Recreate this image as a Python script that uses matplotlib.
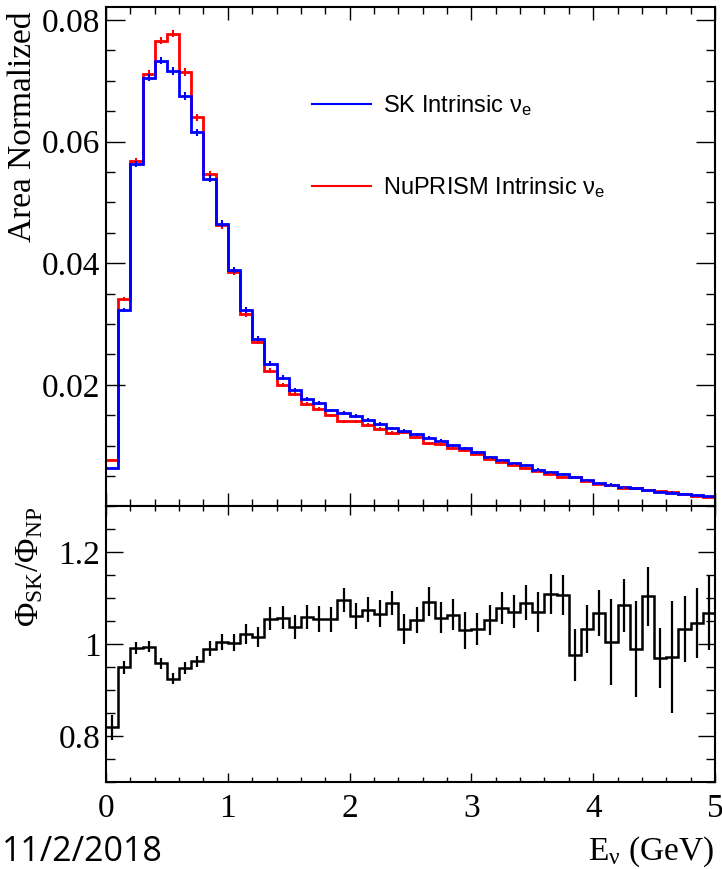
import numpy as np
import matplotlib
matplotlib.use('Agg')
import matplotlib.pyplot as plt
from matplotlib.lines import Line2D
from matplotlib.ticker import MultipleLocator, FuncFormatter

plt.rcParams['font.family'] = ['Liberation Serif', 'DejaVu Serif']
plt.rcParams['mathtext.fontset'] = 'custom'
plt.rcParams['mathtext.rm'] = 'Liberation Serif'
plt.rcParams['mathtext.it'] = 'Liberation Serif:italic'
plt.rcParams['mathtext.sf'] = 'Liberation Sans'

# Binning: 50 bins of 0.1 GeV from 0 to 5 GeV
e_min, e_max, n_bins = 0.0, 5.0, 50

# Area normalised flux, SK and NuPRISM intrinsic nu_e
sk_flux = [0.0063, 0.0323, 0.0563, 0.0705, 0.0733, 0.0716, 0.0675, 0.0615, 0.0539, 0.0465,
           0.0389, 0.0323, 0.0276, 0.0235, 0.0212, 0.0192, 0.0177, 0.0170, 0.0158, 0.0154,
           0.0149, 0.0143, 0.0136, 0.0129, 0.0124, 0.0119, 0.0113, 0.0108, 0.0101, 0.0096,
           0.0089, 0.0082, 0.0077, 0.0072, 0.0069, 0.0061, 0.0057, 0.0053, 0.0048, 0.0043,
           0.0039, 0.0036, 0.0033, 0.0030, 0.0027, 0.0024, 0.0023, 0.0021, 0.0019, 0.0017]
np_flux = [0.0077, 0.0341, 0.0568, 0.0711, 0.0766, 0.0777, 0.0714, 0.0640, 0.0546, 0.0462,
           0.0386, 0.0317, 0.0271, 0.0223, 0.0200, 0.0185, 0.0168, 0.0161, 0.0150, 0.0140,
           0.0140, 0.0134, 0.0128, 0.0121, 0.0122, 0.0115, 0.0104, 0.0103, 0.0096, 0.0093,
           0.0087, 0.0078, 0.0073, 0.0068, 0.0064, 0.0059, 0.0053, 0.0049, 0.00485, 0.0042,
           0.0038, 0.0035, 0.0031, 0.0030, 0.00275, 0.0025, 0.0024, 0.0020, 0.0018, 0.00165]
flux_err = [0.00012, 0.00033, 0.00052, 0.00058, 0.0006, 0.00059, 0.0006, 0.00059, 0.00059, 0.00056,
            0.0005, 0.0005, 0.00042, 0.00042, 0.00038, 0.00037, 0.00033, 0.00033, 0.0003, 0.00028,
            0.0003, 0.00027, 0.00029, 0.00025, 0.00029, 0.00024, 0.00025, 0.00026, 0.00023, 0.00027,
            0.00022, 0.00019, 0.00019, 0.00018, 0.00018, 0.00019, 0.00018, 0.00016, 0.00019, 0.00016,
            0.00014, 0.00024, 0.00013, 0.00022, 0.00012, 0.00011, 0.0002, 0.00011, 0.0001, 0.0001]

# Ratio SK / NuPRISM
ratio = [0.819, 0.949, 0.991, 0.994, 0.958, 0.924, 0.947, 0.962, 0.990, 1.004,
         1.003, 1.022, 1.015, 1.055, 1.057, 1.037, 1.059, 1.054, 1.054, 1.095,
         1.061, 1.075, 1.066, 1.089, 1.033, 1.052, 1.092, 1.057, 1.064, 1.030,
         1.033, 1.052, 1.078, 1.070, 1.090, 1.069, 1.109, 1.106, 0.976, 1.032,
         1.067, 1.004, 1.084, 0.989, 1.104, 0.969, 0.972, 1.032, 1.046, 1.068]
ratio_err = [0.027, 0.015, 0.013, 0.012, 0.012, 0.012, 0.013, 0.013, 0.016, 0.017,
             0.018, 0.022, 0.022, 0.025, 0.025, 0.027, 0.026, 0.028, 0.027, 0.026,
             0.028, 0.027, 0.030, 0.027, 0.033, 0.029, 0.031, 0.034, 0.033, 0.040,
             0.035, 0.033, 0.035, 0.036, 0.038, 0.043, 0.044, 0.044, 0.057, 0.052,
             0.050, 0.093, 0.057, 0.104, 0.064, 0.065, 0.122, 0.072, 0.076, 0.082]

edges = np.linspace(e_min, e_max, n_bins + 1)
centers = 0.5 * (edges[:-1] + edges[1:])

fig = plt.figure(figsize=(7.22, 8.69), dpi=100)
ax1 = fig.add_axes([0.1468, 0.4177, 0.8435, 0.5742])
ax2 = fig.add_axes([0.1468, 0.1001, 0.8435, 0.3176])

# Top panel: the two spectra
ax1.stairs(np_flux, edges, baseline=None, color='#ff0000', lw=2.0)
ax1.errorbar(centers, np_flux, yerr=flux_err, fmt='none', ecolor='#ff0000', elinewidth=1.5)
ax1.stairs(sk_flux, edges, baseline=None, color='#0000ff', lw=2.0)
ax1.errorbar(centers, sk_flux, yerr=flux_err, fmt='none', ecolor='#0000ff', elinewidth=1.5)

ax1.set_xlim(e_min, e_max)
ax1.set_ylim(0.0001, 0.0821)
ax1.yaxis.set_major_locator(MultipleLocator(0.02))
ax1.yaxis.set_minor_locator(MultipleLocator(0.005))
ax1.yaxis.set_major_formatter(FuncFormatter(lambda v, p: f'{v:.2f}'))

handles = [Line2D([], [], color='#0000ff', lw=1.5), Line2D([], [], color='#ff0000', lw=1.5)]
labels = ['SK Intrinsic ν$_\\mathsf{e}$', 'NuPRISM Intrinsic ν$_\\mathsf{e}$']
ax1.legend(handles, labels, loc='upper left', bbox_to_anchor=(0.338, 0.827),
           frameon=False, prop={'family': 'Liberation Sans', 'size': 17},
           handlelength=2.5, handletextpad=0.5, labelspacing=2.45,
           borderpad=0, borderaxespad=0)

# Bottom panel: ratio
ax2.stairs(ratio, edges, baseline=None, color='black', lw=1.8)
ax2.errorbar(centers, ratio, yerr=ratio_err, fmt='none', ecolor='black', elinewidth=1.6)
ax2.set_xlim(e_min, e_max)
ax2.set_ylim(0.7, 1.3)
ax2.yaxis.set_major_locator(MultipleLocator(0.2))
ax2.yaxis.set_minor_locator(MultipleLocator(0.05))
ax2.yaxis.set_major_formatter(FuncFormatter(lambda v, p: f'{v:g}'))

for ax in (ax1, ax2):
    ax.xaxis.set_major_locator(MultipleLocator(1))
    ax.xaxis.set_minor_locator(MultipleLocator(0.2))
    for s in ax.spines.values():
        s.set_linewidth(1.5)

ax1.tick_params(axis='y', which='major', direction='in', length=13.5, width=1.0,
                labelsize=24, pad=4, right=True)
ax1.tick_params(axis='y', which='minor', direction='in', length=6.5, width=1.0, right=True)
ax1.tick_params(axis='x', which='major', direction='in', length=9.5, width=1.0,
                top=True, labelbottom=False)
ax1.tick_params(axis='x', which='minor', direction='in', length=5, width=1.0, top=True)

ax2.tick_params(axis='y', which='major', direction='in', length=12, width=1.0,
                labelsize=24, pad=4, right=True)
ax2.tick_params(axis='y', which='minor', direction='in', length=6.5, width=1.0, right=True)
ax2.tick_params(axis='x', which='major', direction='in', length=6.5, width=1.0,
                labelsize=24, pad=8, top=True)
ax2.tick_params(axis='x', which='minor', direction='in', length=3.5, width=1.0, top=True)

# Axis titles, ROOT style (aligned to the end of the axis)
fig.text(23 / 722, 1 - 12 / 869, 'Area Normalized', rotation=90, ha='center', va='top', fontsize=24)
fig.text(30 / 722, 1 - 507 / 869, 'Φ$_\\mathrm{SK}$/Φ$_\\mathrm{NP}$', rotation=90,
         ha='center', va='top', fontsize=24)
fig.text(714 / 722, 1 - 860 / 869, 'E$_\\mathrm{ν}$ (GeV)', ha='right', va='baseline', fontsize=24)
fig.text(2 / 722, 1 - 861 / 869, '11/2/2018', ha='left', va='baseline',
         fontsize=24.5, family='Open Sans')

fig.savefig('out.png', dpi=100)
